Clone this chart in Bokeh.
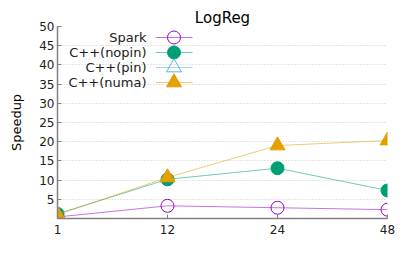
from bokeh.plotting import figure
from bokeh.models import Range1d, FixedTicker
from bokeh.core.properties import value
from bokeh.embed import file_html
from bokeh.resources import INLINE

nan = float("nan")

threads = ["1", "12", "24", "48"]
spark = [0.4, 3.3, 2.8, 2.3]
cpp_nopin = [1.2, 10.2, 13.1, 7.3]
cpp_pin = [nan, nan, nan, nan]
cpp_numa = [1.0, 10.7, 19.0, 20.3]
y_ticks = [5, 10, 15, 20, 25, 30, 35, 40, 45, 50]

FONT = "DejaVu Sans"
xs = list(range(len(threads)))

W, H = 405, 253
p = figure(width=W, height=H, output_backend="svg", toolbar_location=None,
           x_range=Range1d(0, len(threads) - 1), y_range=Range1d(0, 50),
           min_border_left=57, min_border_right=W - 387, min_border_top=26,
           min_border_bottom=H - 218, title="LogReg")
p.outline_line_color = None
p.background_fill_color = "white"
p.border_fill_color = "white"

p.title.align = "center"
p.title.text_font = FONT
p.title.text_font_size = "15px"
p.title.text_font_style = "normal"
p.title.text_color = "#000000"
p.title.standoff = 0

for ax in (p.xaxis[0], p.yaxis[0]):
    ax.axis_line_color = "#808080"
    ax.axis_line_width = 1.5
    ax.major_tick_line_color = "#808080"
    ax.major_tick_in = 4
    ax.major_tick_out = 0
    ax.minor_tick_line_color = None
    ax.major_label_text_font = FONT
    ax.major_label_text_font_size = "12px"
    ax.major_label_text_color = "#202020"
p.xaxis.major_label_standoff = 6
p.yaxis.major_label_standoff = 3
p.xaxis.ticker = FixedTicker(ticks=xs)
p.xaxis.major_label_overrides = {i: t for i, t in enumerate(threads)}
p.yaxis.ticker = FixedTicker(ticks=y_ticks)
p.yaxis.axis_label = "Speedup"
p.yaxis.axis_label_text_font = FONT
p.yaxis.axis_label_text_font_size = "13px"
p.yaxis.axis_label_text_font_style = "normal"
p.yaxis.axis_label_text_color = "#000000"
p.yaxis.axis_label_standoff = 12

p.xgrid.grid_line_color = None
p.ygrid.grid_line_color = "#c8c8c8"
p.ygrid.grid_line_dash = "1 2"
p.ygrid.grid_line_width = 1

series = [
    ("Spark", spark, "#9400d3", "circle", False),
    ("C++(nopin)", cpp_nopin, "#009e73", "circle", True),
    ("C++(pin)", cpp_pin, "#56b4e9", "triangle", False),
    ("C++(numa)", cpp_numa, "#e69f00", "triangle", True),
]

def draw_marker(xv, yv, col, mk, filled):
    size = 13 if mk == "circle" else 15
    if filled:
        p.scatter(xv, yv, marker=mk, size=size, fill_color=col, line_color=col)
    else:
        p.scatter(xv, yv, marker=mk, size=size, fill_color=None, line_color=col,
                  line_width=1)

for name, vals, col, mk, filled in series:
    p.line(xs, vals, line_color=col, line_width=1, line_alpha=0.55)
    draw_marker(xs, vals, col, mk, filled)

# custom legend (text right-aligned, sample on the right), converted to data units
def px_to_x(px):
    return (px - 57) / 110.0

def py_to_y(py):
    return (218 - py) / 3.84

rows = [37, 52, 67, 82]
for (name, vals, col, mk, filled), ry in zip(series, rows):
    yy = py_to_y(ry)
    p.line([px_to_x(155), px_to_x(192)], [yy, yy], line_color=col,
           line_width=1, line_alpha=0.55)
    draw_marker([px_to_x(173.5)], [yy], col, mk, filled)
    p.text([px_to_x(146)], [yy], text=[name], text_align="right",
           text_baseline="middle", text_font=value(FONT),
           text_font_size="13px", text_color="#202020")

open("out.html", "w").write(file_html(p, INLINE))
